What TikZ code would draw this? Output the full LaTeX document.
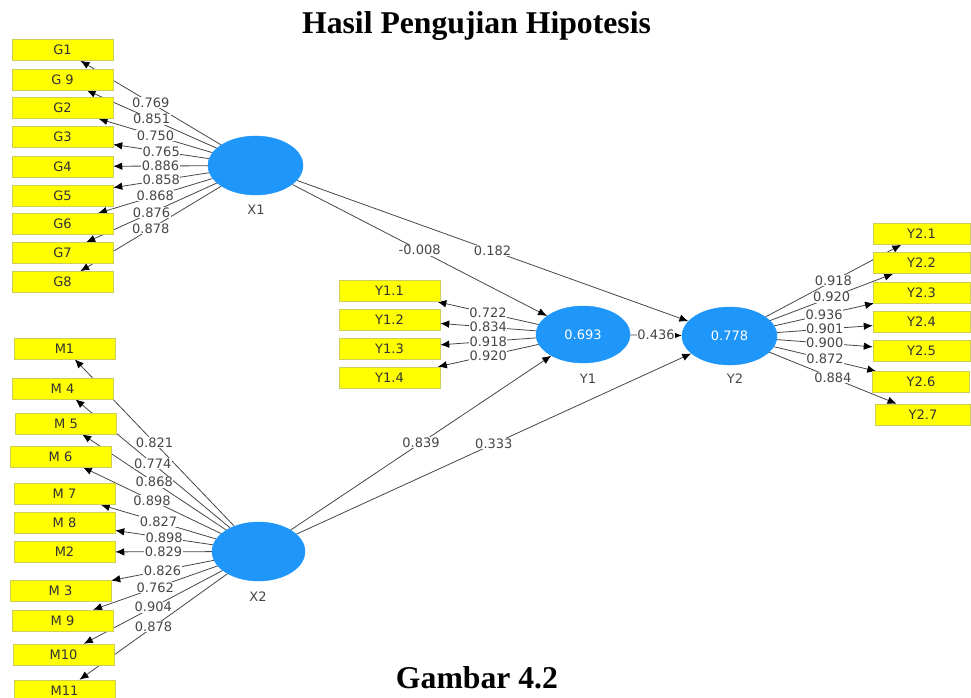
\documentclass[tikz,border=0pt]{standalone}
\usepackage{fontspec}
\setmainfont{Liberation Serif}
\newfontfamily\dvs{DejaVu Sans}
\usetikzlibrary{shapes.geometric,arrows.meta}
\pgfdeclarelayer{bg}
\pgfsetlayers{bg,main}
\definecolor{lv}{RGB}{30,150,250}
\definecolor{ln}{RGB}{70,70,70}
\definecolor{bx}{RGB}{255,255,0}
\definecolor{bxd}{RGB}{205,205,90}
\tikzset{
 ind/.style={rectangle, fill=bx, draw=bxd, line width=0.5pt, minimum width=101pt, minimum height=21pt, inner sep=0pt, font=\dvs\fontsize{13}{13}\selectfont, text=black!80},
 lat/.style={ellipse, fill=lv, draw=lv, inner sep=0pt, text=white, font=\dvs\fontsize{13}{13}\selectfont},
 lvcap/.style={font=\dvs\fontsize{13}{13}\selectfont, text=ln},
 arr/.style={draw=ln, line width=0.8pt, -{Latex[length=9pt,width=7.5pt,color=black]}},
 lbl/.style={fill=white, inner sep=0.6pt, font=\dvs\fontsize{13}{13}\selectfont, text=ln},
}
\newcommand\lk[3]{\begin{pgfonlayer}{bg}\draw[arr] (#1) -- (#2);\end{pgfonlayer}\path (#1) -- node[lbl]{#3} (#2);}
\begin{document}
\begin{tikzpicture}[x=1pt,y=-1pt]
\useasboundingbox (0,0) rectangle (971,697);
\clip (0,0) rectangle (971,697);
% title and caption
\node[anchor=base, font=\bfseries\fontsize{31.7}{32}\selectfont] (title) at (476.5,33) {Hasil Pengujian Hipotesis};
\node[anchor=base, font=\bfseries\fontsize{31.7}{32}\selectfont] (caption) at (477,688) {Gambar 4.2};
% latent variables
\node[lat, minimum width=95pt, minimum height=59pt] (X1) at (255.5,165.5) {};
\node[lat, minimum width=93pt, minimum height=59pt] (X2) at (258.5,551.5) {};
\node[lat, minimum width=94pt, minimum height=57pt] (Y1) at (583,334.5) {0.693};
\node[lat, minimum width=95pt, minimum height=58pt] (Y2) at (729.5,336) {0.778};
\node[lvcap] (lX1) at (256,210) {X1};
\node[lvcap] (lX2) at (258,597) {X2};
\node[lvcap] (lY1) at (588,379) {Y1};
\node[lvcap] (lY2) at (735,379) {Y2};
% G indicators
\node[ind] (G1) at (62.5,50) {G1};
\node[ind] (G9) at (62.5,79.5) {G 9};
\node[ind] (G2) at (62.5,108) {G2};
\node[ind] (G3) at (62.5,137) {G3};
\node[ind] (G4) at (62.5,166.5) {G4};
\node[ind] (G5) at (62.5,195.5) {G5};
\node[ind] (G6) at (62.5,224) {G6};
\node[ind] (G7) at (62.5,253) {G7};
\node[ind] (G8) at (62.5,282) {G8};
% M indicators
\node[ind] (M1) at (64.5,348.5) {M1};
\node[ind] (M4) at (62.5,388.5) {M 4};
\node[ind] (M5) at (66,423.5) {M 5};
\node[ind] (M6) at (60.5,456.5) {M 6};
\node[ind] (M7) at (64.5,494) {M 7};
\node[ind] (M8) at (64.5,523) {M 8};
\node[ind] (M2) at (64.5,552) {M2};
\node[ind] (M3) at (60.5,590.5) {M 3};
\node[ind] (M9) at (62.5,620.5) {M 9};
\node[ind] (M10) at (63.5,654.5) {M10};
\node[ind] (M11) at (64.5,690.5) {M11};
% Y1 indicators
\node[ind] (Y11) at (389.5,291) {Y1.1};
\node[ind] (Y12) at (389.5,319.5) {Y1.2};
\node[ind] (Y13) at (389.5,348.5) {Y1.3};
\node[ind] (Y14) at (389.5,377.5) {Y1.4};
% Y2 indicators
\node[ind, minimum width=97pt] (Y21) at (921.5,234) {Y2.1};
\node[ind, minimum width=97pt] (Y22) at (921.5,263) {Y2.2};
\node[ind, minimum width=97pt] (Y23) at (921.5,292.5) {Y2.3};
\node[ind, minimum width=97pt] (Y24) at (921.5,322) {Y2.4};
\node[ind, minimum width=97pt] (Y25) at (921.5,350.5) {Y2.5};
\node[ind, minimum width=97pt] (Y26) at (921,382) {Y2.6};
\node[ind, minimum width=95pt] (Y27) at (923,414.5) {Y2.7};
% X1 loadings
\lk{X1}{G1}{0.769}
\lk{X1}{G9}{0.851}
\lk{X1}{G2}{0.750}
\lk{X1}{G3}{0.765}
\lk{X1}{G4}{0.886}
\lk{X1}{G5}{0.858}
\lk{X1}{G6}{0.868}
\lk{X1}{G7}{0.876}
\lk{X1}{G8}{0.878}
% X2 loadings
\lk{X2}{M1}{0.821}
\lk{X2}{M4}{0.774}
\lk{X2}{M5}{0.868}
\lk{X2}{M6}{0.898}
\lk{X2}{M7}{0.827}
\lk{X2}{M8}{0.898}
\lk{X2}{M2}{0.829}
\lk{X2}{M3}{0.826}
\lk{X2}{M9}{0.762}
\lk{X2}{M10}{0.904}
\lk{X2}{M11}{0.878}
% Y1 loadings
\lk{Y1}{Y11}{0.722}
\lk{Y1}{Y12}{0.834}
\lk{Y1}{Y13}{0.918}
\lk{Y1}{Y14}{0.920}
% Y2 loadings
\lk{Y2}{Y21}{0.918}
\lk{Y2}{Y22}{0.920}
\lk{Y2}{Y23}{0.936}
\lk{Y2}{Y24}{0.901}
\lk{Y2}{Y25}{0.900}
\lk{Y2}{Y26}{0.872}
\lk{Y2}{Y27}{0.884}
% structural paths
\lk{X1}{Y1}{-0.008}
\lk{X1}{Y2}{0.182}
\lk{X2}{Y1}{0.839}
\lk{X2}{Y2}{0.333}
\lk{Y1}{Y2}{0.436}
\end{tikzpicture}
\end{document}
